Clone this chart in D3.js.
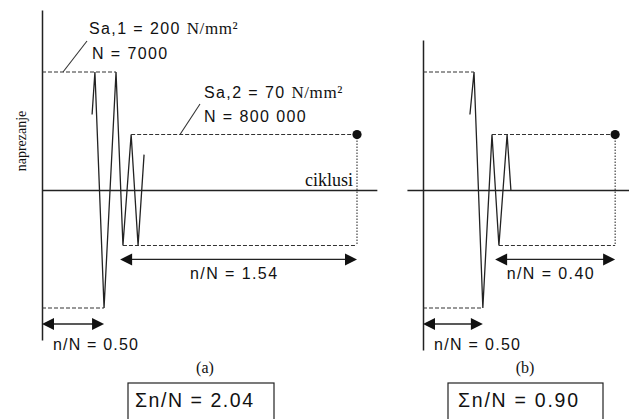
<!DOCTYPE html>
<html><head><meta charset="utf-8">
<script src="https://cdn.jsdelivr.net/npm/d3@7"></script>
<style>
html,body{margin:0;padding:0;background:#fff;}
svg{display:block;}
</style></head><body><svg id="c" width="629" height="419"></svg>
<script>
// ---- data (schematic units as drawn) ----
const panelNames = ["(a)", "(b)"];
const stressLevels = [1.0, 0.47];            // drawn relative amplitude of Sa,1 and Sa,2
const amplitudeLabels = ["Sa,1 = 200 ", "Sa,2 = 70 "];
const lifeLabels = ["N = 7000", "N = 800 000"];
const waveA_t = [15.9, 16.8, 19.7, 23.5, 25.7, 28.3, 30.5, 32.4];
const waveA_s = [0.64, 1, -1, 1, -0.47, 0.47, -0.47, 0.30];
const waveB_t = [14.9, 16.2, 19.0, 21.9, 24.1, 26.7, 27.9];
const waveB_s = [0.64, 1, -1, 0.47, -0.47, 0.47, 0];
const failureT = [100, 61];                  // where the dot sits
const block1End = [19.7, 19.0];              // end of Sa,1 block (arrow)
const block2Start = [24.8, 22.9];            // start of Sa,2 arrow
const ratio1 = [0.50, 0.50];
const ratio2 = [1.54, 0.40];
const damageSum = [2.04, 0.90];

// ---- layout ----
const origins = [42, 423];
const hExtent = [[0, 106.3], [-5.1, 65.4]];
const vExtent = [[-1.271, 1.525], [-1.356, 1.271]];
const ink = "#222";
const sans = "'Liberation Sans', Arial, sans-serif";
const serif = "'Liberation Serif', 'Times New Roman', serif";

const svg = d3.select("#c");
const x = d3.scaleLinear().domain([0, 100]).range([0, 315]);
const y = d3.scaleLinear().domain([-1, 1]).range([308, 72]);
const line = d3.line().x(d => x(d[0])).y(d => y(d[1]));

const waves = [d3.zip(waveA_t, waveA_s), d3.zip(waveB_t, waveB_s)];

function arrow(g, x0, x1, yy) {
  const L = 12, H = 6;
  g.append("line").attr("x1", x0 + L - 1).attr("x2", x1 - L + 1).attr("y1", yy).attr("y2", yy)
    .attr("stroke", ink).attr("stroke-width", 1.3);
  g.append("path").attr("d", `M${x0},${yy}L${x0 + L},${yy - H}L${x0 + L},${yy + H}Z`).attr("fill", "#111");
  g.append("path").attr("d", `M${x1},${yy}L${x1 - L},${yy - H}L${x1 - L},${yy + H}Z`).attr("fill", "#111");
}
function dashed(g, t0, t1, s, dash) {
  g.append("line").attr("x1", x(t0)).attr("x2", x(t1)).attr("y1", y(s)).attr("y2", y(s))
    .attr("stroke", "#333").attr("stroke-width", 1.1).attr("stroke-dasharray", dash || "4,2");
}

const len1 = [85, 86], len2 = [87, 87];

[0, 1].forEach(i => {
  const g = svg.append("g").attr("transform", `translate(${origins[i]},0)`);
  const w = waves[i];
  const lastPeak1 = w.filter(d => d[1] === 1).pop();
  const trough1 = w.find(d => d[1] === -1);
  const peak2 = w.find(d => d[1] === stressLevels[1]);
  const trough2 = w.find(d => d[1] === -stressLevels[1]);
  const tf = failureT[i];

  // axes (domain lines only)
  const he = hExtent[i], ve = vExtent[i];
  g.append("g").attr("transform", `translate(0,${y(0)})`)
    .call(d3.axisBottom(x.copy().domain(he).range(he.map(x))).tickValues([]).tickSizeOuter(0))
    .select(".domain").attr("stroke", ink).attr("stroke-width", 1.6);
  g.append("g")
    .call(d3.axisLeft(y.copy().domain(ve).range(ve.map(y))).tickValues([]).tickSizeOuter(0))
    .select(".domain").attr("stroke", ink).attr("stroke-width", 1.5);

  // reference dashed lines
  dashed(g, 0, lastPeak1[0], stressLevels[0]);
  dashed(g, 0, trough1[0], -stressLevels[0]);
  dashed(g, peak2[0], tf, stressLevels[1]);
  dashed(g, trough2[0], tf, -stressLevels[1]);
  g.append("line").attr("x1", x(tf)).attr("x2", x(tf)).attr("y1", y(stressLevels[1])).attr("y2", y(-stressLevels[1]))
    .attr("stroke", "#333").attr("stroke-width", 1.1).attr("stroke-dasharray", "1.5,1.5");

  // waveform
  g.append("path").datum(w).attr("d", line).attr("fill", "none")
    .attr("stroke", ink).attr("stroke-width", 1.3).attr("stroke-linejoin", "miter");

  // failure dot
  g.append("circle").attr("cx", x(tf)).attr("cy", y(stressLevels[1])).attr("r", 4.6).attr("fill", "#111");

  // arrows
  arrow(g, x(0), x(block1End[i]), y(-stressLevels[0]) + 16);
  arrow(g, x(block2Start[i]), x(tf), y(-stressLevels[1]) + 14);

  // ratio labels
  g.append("text").attr("x", 11).attr("y", y(-stressLevels[0]) + 42)
    .attr("font-family", sans).attr("font-size", 16).attr("fill", "#111")
    .attr("textLength", len1[i]).attr("lengthAdjust", "spacing")
    .text("n/N = " + ratio1[i].toFixed(2));
  g.append("text").attr("x", (x(block2Start[i]) + x(tf)) / 2 - 5 - len2[i] / 2).attr("y", y(-stressLevels[1]) + 34)
    .attr("font-family", sans).attr("font-size", 16).attr("fill", "#111")
    .attr("textLength", len2[i]).attr("lengthAdjust", "spacing")
    .text("n/N = " + ratio2[i].toFixed(2));
});

// panel captions
const capX = [205, 525];
panelNames.forEach((p, i) => {
  svg.append("text").attr("x", capX[i]).attr("y", 373).attr("text-anchor", "middle")
    .attr("font-family", serif).attr("font-size", 16).attr("fill", "#111").text(p);
});

// sum boxes
const boxX = [[128, 274], [448, 603]];
const boxLen = [118, 120];
damageSum.forEach((v, i) => {
  svg.append("rect").attr("x", boxX[i][0]).attr("y", 383).attr("width", boxX[i][1] - boxX[i][0]).attr("height", 50)
    .attr("fill", "#fff").attr("stroke", ink).attr("stroke-width", 1.2);
  svg.append("text").attr("x", boxX[i][0] + 7 + i * 3).attr("y", 407)
    .attr("font-family", sans).attr("font-size", 19.5).attr("fill", "#111")
    .attr("textLength", boxLen[i]).attr("lengthAdjust", "spacing")
    .text("Σn/N = " + v.toFixed(2));
});

// amplitude annotations (panel a)
const annot = [
  {x: 89, y: 34, y2: 59, x2: 92, lx1: 63, ly1: y(stressLevels[0]), lx2: 87, ly2: 41},
  {x: 204, y: 98, y2: 122, x2: 204, lx1: 180, ly1: y(stressLevels[1]), lx2: 200, ly2: 104}
];
annot.forEach((a, i) => {
  const t = svg.append("text").attr("x", a.x).attr("y", a.y).attr("fill", "#111");
  t.append("tspan").attr("font-family", sans).attr("font-size", 16).attr("letter-spacing", 1.4).text(amplitudeLabels[i]);
  t.append("tspan").attr("font-family", serif).attr("font-size", 17).attr("letter-spacing", 0.6).text("N/mm²");
  svg.append("text").attr("x", a.x2).attr("y", a.y2).attr("fill", "#111")
    .attr("font-family", sans).attr("font-size", 16).attr("letter-spacing", 1.4).text(lifeLabels[i]);
  svg.append("line").attr("x1", a.lx1).attr("y1", a.ly1).attr("x2", a.lx2).attr("y2", a.ly2)
    .attr("stroke", "#333").attr("stroke-width", 1.1);
});

// axis titles
svg.append("text").attr("x", 353).attr("y", 186).attr("text-anchor", "end")
  .attr("font-family", serif).attr("font-size", 18).attr("fill", "#111").text("ciklusi");
svg.append("text").attr("transform", "translate(26,141) rotate(-90)").attr("text-anchor", "middle")
  .attr("font-family", serif).attr("font-size", 14).attr("fill", "#111").text("naprezanje");
</script></body></html>
